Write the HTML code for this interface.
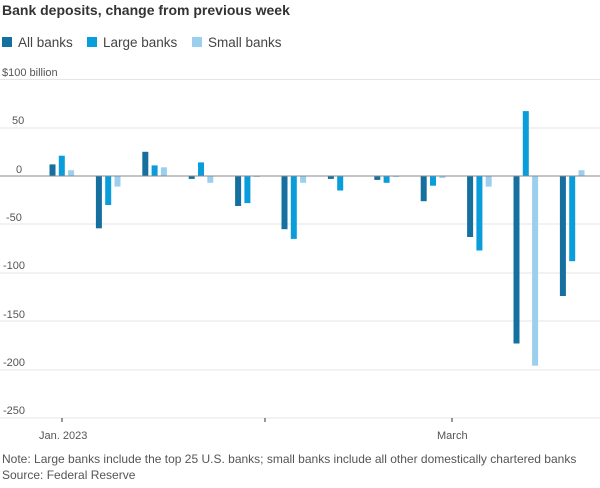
<!DOCTYPE html>
<html><head><meta charset="utf-8"><style>
body{margin:0;background:#fff;width:600px;height:483px;overflow:hidden;font-family:"Liberation Sans",sans-serif;}
</style></head><body>
<svg width="600" height="483" xmlns="http://www.w3.org/2000/svg" font-family="Liberation Sans, sans-serif">
<text x="2" y="15" font-size="14" font-weight="bold" fill="#333">Bank deposits, change from previous week</text>
<rect x="2" y="37" width="10" height="10" fill="#1570a0"/><text x="18" y="47" font-size="13.5" fill="#444">All banks</text>
<rect x="87" y="37" width="10" height="10" fill="#0a9ddb"/><text x="103" y="47" font-size="13.5" fill="#444">Large banks</text>
<rect x="192" y="37" width="10" height="10" fill="#9ccfee"/><text x="208" y="47" font-size="13.5" fill="#444">Small banks</text>
<g stroke="#e6e6e6" stroke-width="1">
<line x1="0" x2="600" y1="79.5" y2="79.5"/>
<line x1="0" x2="600" y1="128" y2="128"/>
<line x1="0" x2="600" y1="224" y2="224"/>
<line x1="0" x2="600" y1="273" y2="273"/>
<line x1="0" x2="600" y1="321" y2="321"/>
<line x1="0" x2="600" y1="370" y2="370"/>
<line x1="0" x2="600" y1="418" y2="418"/>
</g>
<g font-size="11" fill="#555">
<text x="2" y="76">$100 billion</text>
<text x="12" y="124">50</text>
<text x="16" y="173">0</text>
<text x="6" y="221">-50</text>
<text x="3" y="269">-100</text>
<text x="3" y="318">-150</text>
<text x="3" y="366">-200</text>
<text x="3" y="414">-250</text>
</g>
<g>
<rect x="49.5" y="164.4" width="6" height="11.6" fill="#1570a0"/>
<rect x="58.8" y="155.7" width="6" height="20.3" fill="#0a9ddb"/>
<rect x="68.1" y="170.2" width="6" height="5.8" fill="#9ccfee"/>
<rect x="95.9" y="176" width="6" height="52.3" fill="#1570a0"/>
<rect x="105.2" y="176" width="6" height="29" fill="#0a9ddb"/>
<rect x="114.5" y="176" width="6" height="10.6" fill="#9ccfee"/>
<rect x="142.3" y="151.8" width="6" height="24.2" fill="#1570a0"/>
<rect x="151.6" y="165.4" width="6" height="10.6" fill="#0a9ddb"/>
<rect x="160.9" y="167.3" width="6" height="8.7" fill="#9ccfee"/>
<rect x="188.7" y="176" width="6" height="2.9" fill="#1570a0"/>
<rect x="198.0" y="162.4" width="6" height="13.6" fill="#0a9ddb"/>
<rect x="207.3" y="176" width="6" height="6.8" fill="#9ccfee"/>
<rect x="235.1" y="176" width="6" height="30" fill="#1570a0"/>
<rect x="244.4" y="176" width="6" height="27.1" fill="#0a9ddb"/>
<rect x="253.7" y="176" width="6" height="1" fill="#9ccfee"/>
<rect x="281.5" y="176" width="6" height="53.2" fill="#1570a0"/>
<rect x="290.8" y="176" width="6" height="62.9" fill="#0a9ddb"/>
<rect x="300.1" y="176" width="6" height="6.8" fill="#9ccfee"/>
<rect x="327.9" y="176" width="6" height="2.9" fill="#1570a0"/>
<rect x="337.2" y="176" width="6" height="14.5" fill="#0a9ddb"/>
<rect x="374.3" y="176" width="6" height="3.9" fill="#1570a0"/>
<rect x="383.6" y="176" width="6" height="6.8" fill="#0a9ddb"/>
<rect x="392.9" y="176" width="6" height="1" fill="#9ccfee"/>
<rect x="420.7" y="176" width="6" height="25.2" fill="#1570a0"/>
<rect x="430.0" y="176" width="6" height="9.7" fill="#0a9ddb"/>
<rect x="439.3" y="176" width="6" height="1.9" fill="#9ccfee"/>
<rect x="467.1" y="176" width="6" height="61" fill="#1570a0"/>
<rect x="476.4" y="176" width="6" height="74.5" fill="#0a9ddb"/>
<rect x="485.7" y="176" width="6" height="10.6" fill="#9ccfee"/>
<rect x="513.5" y="176" width="6" height="167.5" fill="#1570a0"/>
<rect x="522.8" y="111.1" width="6" height="64.9" fill="#0a9ddb"/>
<rect x="532.1" y="176" width="6" height="189.7" fill="#9ccfee"/>
<rect x="559.9" y="176" width="6" height="120" fill="#1570a0"/>
<rect x="569.2" y="176" width="6" height="85.2" fill="#0a9ddb"/>
<rect x="578.5" y="170.2" width="6" height="5.8" fill="#9ccfee"/>
</g>
<line x1="0" x2="600" y1="176" y2="176" stroke="#888" stroke-width="1"/>
<g stroke="#333"><line x1="62" x2="62" y1="418" y2="422"/><line x1="265" x2="265" y1="418" y2="422"/><line x1="452" x2="452" y1="418" y2="422"/></g>
<g font-size="11" fill="#555"><text x="39" y="439">Jan. 2023</text><text x="437" y="439">March</text></g>
<text x="2" y="463" font-size="12" fill="#555">Note: Large banks include the top 25 U.S. banks; small banks include all other domestically chartered banks</text>
<text x="2" y="479" font-size="12" fill="#555">Source: Federal Reserve</text>
</svg>
</body></html>
